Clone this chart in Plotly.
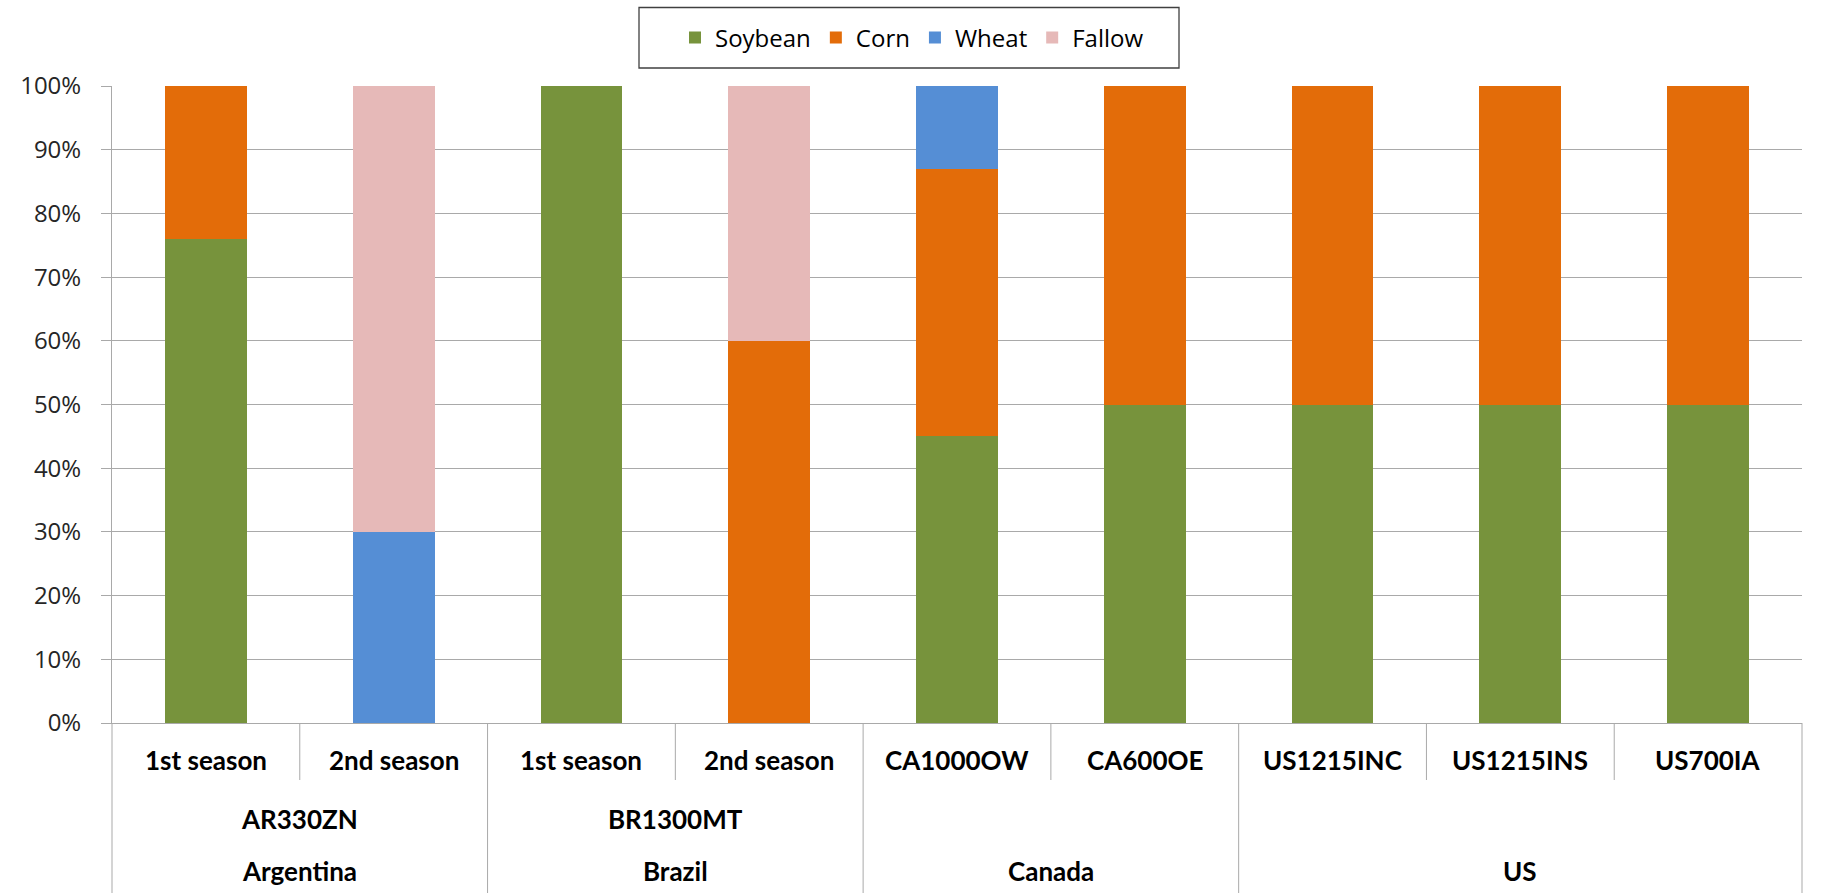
import plotly.graph_objects as go

# ---- data -------------------------------------------------------------
bar_labels = ["1st season", "2nd season", "1st season", "2nd season",
              "CA1000OW", "CA600OE", "US1215INC", "US1215INS", "US700IA"]
site_of = ["AR330ZN", "AR330ZN", "BR1300MT", "BR1300MT", "", "", "", "", ""]
country_of = ["Argentina", "Argentina", "Brazil", "Brazil",
              "Canada", "Canada", "US", "US", "US"]

soybean = [0.76, 0.00, 1.00, 0.00, 0.45, 0.50, 0.50, 0.50, 0.50]
corn = [0.24, 0.00, 0.00, 0.60, 0.42, 0.50, 0.50, 0.50, 0.50]
wheat = [0.00, 0.30, 0.00, 0.00, 0.13, 0.00, 0.00, 0.00, 0.00]
fallow = [0.00, 0.70, 0.00, 0.40, 0.00, 0.00, 0.00, 0.00, 0.00]

series = [("Soybean", soybean, "#77933C"),
          ("Corn", corn, "#E36C09"),
          ("Wheat", wheat, "#558ED5"),
          ("Fallow", fallow, "#E6B9B8")]

y_ticks = [i / 10 for i in range(11)]

# ---- canvas geometry (pixels) ----------------------------------------
W, H = 1829, 896
L, R, T, B = 112, 1802, 86, 723
XR = (-0.5, len(bar_labels) - 0.5)
GRID = "#A9A9A9"
CAT_FONT = dict(family="Lato", size=26, color="#000000")


def pyp(pix):
    """pixel row -> paper y"""
    return (B - pix) / (B - T)


def pxp(pix):
    """pixel column -> paper x"""
    return (pix - L) / (R - L)


def xp(xv):
    """category position -> paper x"""
    return (xv - XR[0]) / (XR[1] - XR[0])


xs = list(range(len(bar_labels)))

fig = go.Figure()
for name, vals, col in series:
    fig.add_trace(go.Bar(
        x=xs, y=[v if v > 0 else None for v in vals], name=name,
        marker=dict(color=col, line=dict(width=0)),
        width=0.435,
    ))

shapes = []
annotations = []

# separators below the axis: long ones at country edges, short ones otherwise
edges = [-0.5] + [i + 0.5 for i in range(len(xs) - 1)] + [len(xs) - 0.5]
for k, e in enumerate(edges):
    if k == 0 or k == len(edges) - 1:
        long_line = True
    else:
        long_line = country_of[k - 1] != country_of[k]
    shapes.append(dict(
        type="line", xref="paper", yref="paper",
        x0=xp(e), x1=xp(e), y0=0, y1=pyp(893 if long_line else 780),
        line=dict(color=GRID, width=1)))

# first row: season / site names
for i, lab in enumerate(bar_labels):
    annotations.append(dict(
        x=i, y=pyp(760), xref="x", yref="paper", text="<b>%s</b>" % lab,
        showarrow=False, font=CAT_FONT, xanchor="center", yanchor="middle"))


def spans(groups):
    out = []
    start = 0
    for i in range(1, len(groups) + 1):
        if i == len(groups) or groups[i] != groups[start]:
            out.append((groups[start], start, i - 1))
            start = i
    return out


for name, a, b in spans(site_of):
    if name:
        annotations.append(dict(
            x=(a + b) / 2, y=pyp(819), xref="x", yref="paper",
            text="<b>%s</b>" % name, showarrow=False, font=CAT_FONT,
            xanchor="center", yanchor="middle"))

for name, a, b in spans(country_of):
    annotations.append(dict(
        x=(a + b) / 2, y=pyp(871), xref="x", yref="paper",
        text="<b>%s</b>" % name, showarrow=False, font=CAT_FONT,
        xanchor="center", yanchor="middle"))

# legend frame
shapes.append(dict(
    type="rect", xref="paper", yref="paper",
    x0=pxp(639), x1=pxp(1179), y0=pyp(68), y1=pyp(7.5),
    line=dict(color="#404040", width=1.3), fillcolor="rgba(0,0,0,0)"))

fig.update_layout(
    width=W, height=H,
    margin=dict(l=L, r=W - R, t=T, b=H - B, pad=0),
    paper_bgcolor="white", plot_bgcolor="white",
    barmode="stack",
    bargap=0.5,
    showlegend=True,
    legend=dict(
        orientation="h", x=pxp(912), xanchor="center",
        y=pyp(38), yanchor="middle",
        font=dict(family="Open Sans", size=24, color="#000000"),
        bgcolor="rgba(0,0,0,0)", borderwidth=0,
        traceorder="normal", itemclick=False, itemdoubleclick=False,
    ),
    xaxis=dict(
        range=list(XR), showticklabels=False, ticks="", showgrid=False,
        zeroline=False, showline=True, linecolor=GRID, linewidth=1,
        fixedrange=True,
    ),
    yaxis=dict(
        range=[0, 1], tickvals=y_ticks, tickformat=".0%",
        showgrid=True, gridcolor=GRID, gridwidth=1,
        zeroline=False, showline=True, linecolor=GRID, linewidth=1,
        ticks="outside", ticklen=10, tickcolor=GRID, tickwidth=1,
        ticklabelstandoff=15,
        tickfont=dict(family="Open Sans", size=24, color="#262626"),
        fixedrange=True,
    ),
    shapes=shapes,
    annotations=annotations,
)

fig.write_html("out.html")
